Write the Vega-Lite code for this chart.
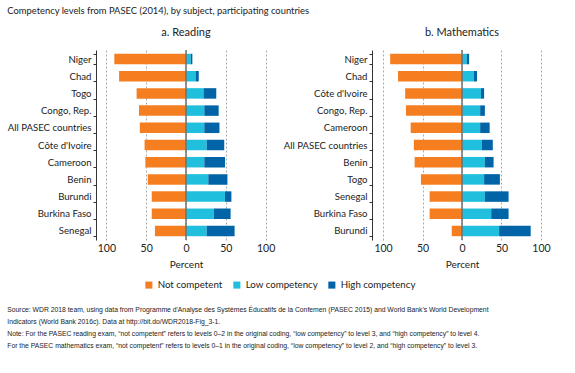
{
  "$schema": "https://vega.github.io/schema/vega-lite/v6.json",
  "padding": {"left": 7, "top": 5, "right": 5, "bottom": 5},
  "background": "white",
  "title": {"text": "Competency levels from PASEC (2014), by subject, participating countries", "anchor": "start", "fontSize": 9.4, "fontWeight": "normal", "font": "Lato", "color": "#222", "offset": 11, "frame": "bounds"},
  "datasets": {
    "reading": [
      {"country": "Niger", "level": "Not competent", "value": -90},
      {"country": "Niger", "level": "Low competency", "value": 6},
      {"country": "Niger", "level": "High competency", "value": 2},
      {"country": "Chad", "level": "Not competent", "value": -84},
      {"country": "Chad", "level": "Low competency", "value": 12},
      {"country": "Chad", "level": "High competency", "value": 4},
      {"country": "Togo", "level": "Not competent", "value": -62},
      {"country": "Togo", "level": "Low competency", "value": 22},
      {"country": "Togo", "level": "High competency", "value": 16},
      {"country": "Congo, Rep.", "level": "Not competent", "value": -59},
      {"country": "Congo, Rep.", "level": "Low competency", "value": 23},
      {"country": "Congo, Rep.", "level": "High competency", "value": 18},
      {"country": "All PASEC countries", "level": "Not competent", "value": -58},
      {"country": "All PASEC countries", "level": "Low competency", "value": 23},
      {"country": "All PASEC countries", "level": "High competency", "value": 19},
      {"country": "Côte d'Ivoire", "level": "Not competent", "value": -52},
      {"country": "Côte d'Ivoire", "level": "Low competency", "value": 26},
      {"country": "Côte d'Ivoire", "level": "High competency", "value": 22},
      {"country": "Cameroon", "level": "Not competent", "value": -51},
      {"country": "Cameroon", "level": "Low competency", "value": 23},
      {"country": "Cameroon", "level": "High competency", "value": 26},
      {"country": "Benin", "level": "Not competent", "value": -48},
      {"country": "Benin", "level": "Low competency", "value": 28},
      {"country": "Benin", "level": "High competency", "value": 24},
      {"country": "Burundi", "level": "Not competent", "value": -43},
      {"country": "Burundi", "level": "Low competency", "value": 49},
      {"country": "Burundi", "level": "High competency", "value": 8},
      {"country": "Burkina Faso", "level": "Not competent", "value": -43},
      {"country": "Burkina Faso", "level": "Low competency", "value": 35},
      {"country": "Burkina Faso", "level": "High competency", "value": 21},
      {"country": "Senegal", "level": "Not competent", "value": -39},
      {"country": "Senegal", "level": "Low competency", "value": 26},
      {"country": "Senegal", "level": "High competency", "value": 35}
    ],
    "math": [
      {"country": "Niger", "level": "Not competent", "value": -91},
      {"country": "Niger", "level": "Low competency", "value": 6},
      {"country": "Niger", "level": "High competency", "value": 3},
      {"country": "Chad", "level": "Not competent", "value": -81},
      {"country": "Chad", "level": "Low competency", "value": 15},
      {"country": "Chad", "level": "High competency", "value": 4},
      {"country": "Côte d'Ivoire", "level": "Not competent", "value": -72},
      {"country": "Côte d'Ivoire", "level": "Low competency", "value": 24},
      {"country": "Côte d'Ivoire", "level": "High competency", "value": 4},
      {"country": "Congo, Rep.", "level": "Not competent", "value": -71},
      {"country": "Congo, Rep.", "level": "Low competency", "value": 23},
      {"country": "Congo, Rep.", "level": "High competency", "value": 6},
      {"country": "Cameroon", "level": "Not competent", "value": -65},
      {"country": "Cameroon", "level": "Low competency", "value": 23},
      {"country": "Cameroon", "level": "High competency", "value": 12},
      {"country": "All PASEC countries", "level": "Not competent", "value": -61},
      {"country": "All PASEC countries", "level": "Low competency", "value": 25},
      {"country": "All PASEC countries", "level": "High competency", "value": 14},
      {"country": "Benin", "level": "Not competent", "value": -60},
      {"country": "Benin", "level": "Low competency", "value": 29},
      {"country": "Benin", "level": "High competency", "value": 11},
      {"country": "Togo", "level": "Not competent", "value": -52},
      {"country": "Togo", "level": "Low competency", "value": 28},
      {"country": "Togo", "level": "High competency", "value": 20},
      {"country": "Senegal", "level": "Not competent", "value": -41},
      {"country": "Senegal", "level": "Low competency", "value": 29},
      {"country": "Senegal", "level": "High competency", "value": 30},
      {"country": "Burkina Faso", "level": "Not competent", "value": -41},
      {"country": "Burkina Faso", "level": "Low competency", "value": 37},
      {"country": "Burkina Faso", "level": "High competency", "value": 22},
      {"country": "Burundi", "level": "Not competent", "value": -13},
      {"country": "Burundi", "level": "Low competency", "value": 47},
      {"country": "Burundi", "level": "High competency", "value": 40}
    ]
  },
  "vconcat": [
    {
      "title": {
        "text": ["Source: WDR 2018 team, using data from Programme d'Analyse des Systèmes Éducatifs de la Confemen (PASEC 2015) and World Bank's World Development", "Indicators (World Bank 2016c). Data at http://bit.do/WDR2018-Fig_3-1."],
        "subtitle": ["Note: For the PASEC reading exam, “not competent” refers to levels 0–2 in the original coding, “low competency” to level 3, and “high competency” to level 4.", "For the PASEC mathematics exam, “not competent” refers to levels 0–1 in the original coding, “low competency” to level 2, and “high competency” to level 3."],
        "orient": "bottom",
        "anchor": "start",
        "frame": "bounds",
        "font": "Liberation Sans",
        "fontSize": 6.8,
        "fontWeight": "normal",
        "color": "#222",
        "lineHeight": 11.5,
        "subtitleFont": "Liberation Sans",
        "subtitleFontSize": 6.8,
        "subtitleColor": "#222",
        "subtitleLineHeight": 11.5,
        "subtitlePadding": 6,
        "offset": 17,
        "baseline": "top"
      },
      "hconcat": [
        {
          "title": {"text": "a. Reading"},
          "width": 180,
          "height": 190,
          "data": {"name": "reading"},
          "layer": [
            {
              "mark": {"type": "bar"},
              "encoding": {
                "y": {"field": "country", "type": "nominal", "sort": null, "scale": {"paddingInner": 0.39, "paddingOuter": 0.22}, "axis": {"title": null}},
                "x": {"field": "value", "type": "quantitative", "stack": "zero", "scale": {"domain": [-113, 113], "nice": false}, "axis": {"values": [-100, -50, 0, 50, 100], "labelExpr": "abs(datum.value)", "title": "Percent"}},
                "color": {"field": "level", "type": "nominal", "scale": {"domain": ["Not competent", "Low competency", "High competency"], "range": ["#F47E20", "#1FBFDD", "#0064A6"]}},
                "order": {"field": "level", "sort": "descending"}
              }
            },
            {
              "data": {"values": [{}]},
              "mark": {"type": "rule", "color": "#707070", "strokeWidth": 1.5},
              "encoding": {"x": {"datum": 0, "type": "quantitative"}}
            }
          ]
        },
        {
          "title": {"text": "b. Mathematics"},
          "width": 180,
          "height": 190,
          "data": {"name": "math"},
          "layer": [
            {
              "mark": {"type": "bar"},
              "encoding": {
                "y": {"field": "country", "type": "nominal", "sort": null, "scale": {"paddingInner": 0.39, "paddingOuter": 0.22}, "axis": {"title": null}},
                "x": {"field": "value", "type": "quantitative", "stack": "zero", "scale": {"domain": [-114, 114], "nice": false}, "axis": {"values": [-100, -50, 0, 50, 100], "labelExpr": "abs(datum.value)", "title": "Percent"}},
                "color": {"field": "level", "type": "nominal", "scale": {"domain": ["Not competent", "Low competency", "High competency"], "range": ["#F47E20", "#1FBFDD", "#0064A6"]}},
                "order": {"field": "level", "sort": "descending"}
              }
            },
            {
              "data": {"values": [{}]},
              "mark": {"type": "rule", "color": "#707070", "strokeWidth": 1.5},
              "encoding": {"x": {"datum": 0, "type": "quantitative"}}
            }
          ]
        }
      ],
      "spacing": 7
    }
  ],
  "resolve": {"scale": {"color": "independent"}, "legend": {"color": "independent"}},
  "config": {
    "view": {"stroke": null},
    "font": "Lato",
    "title": {"fontSize": 11, "fontWeight": "normal", "color": "#222", "offset": 7, "font": "Lato"},
    "axisX": {"grid": true, "gridDash": [2, 2], "gridColor": "#aaaaaa", "domain": false, "ticks": false, "labelFontSize": 10.5, "labelColor": "#222", "labelPadding": 3, "titleFontSize": 10, "titleFontWeight": "normal", "titleColor": "#222", "titlePadding": 6, "labelFont": "Lato", "titleFont": "Lato"},
    "axisY": {"grid": false, "domain": true, "domainColor": "#333", "ticks": true, "tickBand": "extent", "tickColor": "#333", "tickSize": 3, "labelFontSize": 9.6, "labelColor": "#222", "labelPadding": 2, "labelFont": "Lato"},
    "legend": {"orient": "bottom", "direction": "horizontal", "title": null, "symbolType": "square", "symbolSize": 50, "symbolStrokeWidth": 0, "labelFontSize": 9.7, "labelColor": "#222", "labelFont": "Lato", "columnPadding": 9, "offset": 10, "layout": {"bottom": {"anchor": "middle"}}}
  }
}
